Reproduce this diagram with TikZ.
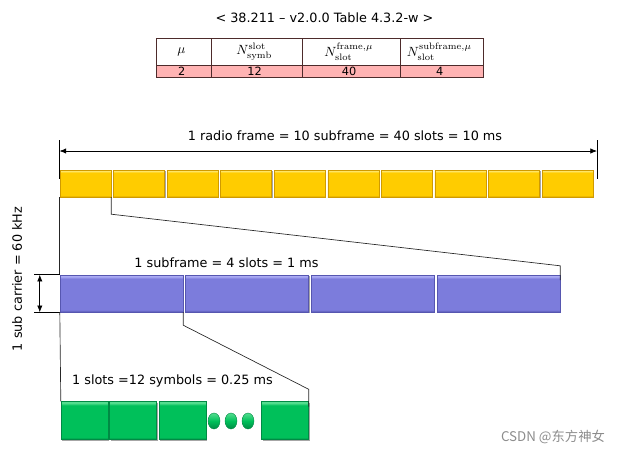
\documentclass[tikz,border=0pt]{standalone}
\usepackage{fontspec}
\usepackage{amsmath}
\usetikzlibrary{calc,matrix,positioning,arrows.meta,shapes.geometric,shadows}
\newfontfamily\verd{DejaVu Sans}
\newfontfamily\cjk{Noto Sans CJK SC}
\newcommand{\lblfont}{\verd\fontsize{9.6}{11.5}\selectfont}
\definecolor{sfyellow}{HTML}{FFCC00}
\definecolor{sfyellowhi}{HTML}{FFE566}
\definecolor{sfyellowlo}{HTML}{D09A00}
\definecolor{slpurple}{HTML}{7C7CDC}
\definecolor{slpurplehi}{HTML}{ABABF4}
\definecolor{slpurplelo}{HTML}{5656B0}
\definecolor{symgreen}{HTML}{00C05A}
\definecolor{symgreenhi}{HTML}{55DD90}
\definecolor{symgreenlo}{HTML}{008A44}
\definecolor{tblpink}{HTML}{FFB3B3}
\definecolor{tblline}{HTML}{4D2B2B}
\definecolor{wmgray}{HTML}{8C8C8C}
\pgfdeclareverticalshading{bevelyellow}{100bp}{color(0bp)=(sfyellowlo); color(25bp)=(sfyellowlo);
  color(28bp)=(sfyellow); color(70bp)=(sfyellow); color(73bp)=(sfyellowhi); color(100bp)=(sfyellowhi)}
\pgfdeclareverticalshading{bevelpurple}{100bp}{color(0bp)=(slpurplelo); color(25bp)=(slpurplelo);
  color(28bp)=(slpurple); color(70bp)=(slpurple); color(73bp)=(slpurplehi); color(100bp)=(slpurplehi)}
\pgfdeclareverticalshading{bevelgreen}{100bp}{color(0bp)=(symgreenlo); color(25bp)=(symgreenlo);
  color(28bp)=(symgreen); color(70bp)=(symgreen); color(73bp)=(symgreenhi); color(100bp)=(symgreenhi)}
\begin{document}
\begin{tikzpicture}[x=0.75pt, y=-0.75pt,
  every node/.style={font=\lblfont},
  bevel/.style={inner sep=0pt, line width=0.3pt,
    drop shadow={shadow xshift=0.8pt, shadow yshift=-0.8pt, opacity=0.35, fill=black}},
  sfbox/.style={bevel, draw=sfyellowlo, shading=bevelyellow,
    minimum width=38.25pt, minimum height=20.25pt},
  slbox/.style={bevel, draw=slpurplelo, shading=bevelpurple,
    minimum width=92.25pt, minimum height=27.75pt},
  symbox/.style={bevel, draw=symgreenlo, shading=bevelgreen,
    minimum width=35.25pt, minimum height=28.5pt},
  symdot/.style={ellipse, inner sep=0pt, draw=symgreenlo, line width=0.3pt,
    top color=symgreenhi, bottom color=symgreenlo, middle color=symgreen,
    minimum width=9pt, minimum height=12pt},
  tcell/.style={draw=tblline, line width=0.6pt, inner sep=0pt, align=center, anchor=center},
  link/.style={draw=black!85, line width=0.5pt},
  dimline/.style={draw=black, line width=0.5pt}]

  \useasboundingbox (0,0) rectangle (619,454);

  % table
  \node (ttl) at (324.5,18) {< 38.211 – v2.0.0 Table 4.3.2-w >};
  \matrix (tbl) [matrix of nodes, nodes={tcell}, anchor=north,
    column sep=-0.6pt, row sep=-0.6pt,
    column 1/.style={nodes={minimum width=41.25pt}},
    column 2/.style={nodes={minimum width=68.25pt}},
    column 3/.style={nodes={minimum width=73.5pt}},
    column 4/.style={nodes={minimum width=62.25pt}},
    row 1/.style={nodes={minimum height=20.25pt, font=\normalsize}},
    row 2/.style={nodes={minimum height=9pt, fill=tblpink,
      font=\verd\fontsize{8.5}{9}\selectfont}}] at (319.5,33) {
    $\mu$ & $N^{\mathrm{slot}}_{\mathrm{symb}}$ &
    $N^{\mathrm{frame},\mu}_{\mathrm{slot}}$ & $N^{\mathrm{subframe},\mu}_{\mathrm{slot}}$ \\
    2 & 12 & 40 & 4 \\
  };

  % radio frame
  \foreach \i in {0,...,9}
    \node[sfbox] (sf\i) at ({85.5+53.56*\i},183.5) {};
  \coordinate (rfL) at (59.5,151);
  \coordinate (rfR) at (597,151);
  \draw[dimline] ($(rfL)+(0,-11)$) -- ($(rfL)+(0,28)$);
  \draw[dimline] ($(rfR)+(0,-11)$) -- ($(rfR)+(0,28)$);
  \draw[dimline, {Latex[length=5pt,width=4pt]}-{Latex[length=5pt,width=4pt]}] (rfL) -- (rfR);
  \node (rflbl) at (345,136) {1 radio frame = 10 subframe = 40 slots = 10 ms};

  % subframe
  \foreach \i in {0,...,3}
    \node[slbox] (sl\i) at ({121.5+125.67*\i},293.5) {};
  \node (sllbl) at (226.5,263) {1 subframe = 4 slots = 1 ms};
  \draw[link] (sf0.south west) -- (sl0.north west);
  \draw[link] (sf0.south east) -- ++(0,17) -- ($(sl3.north east)+(0,-9)$) -- ([yshift=-4pt]sl3.north east);

  % sub carrier
  \draw[dimline] (sl0.north west) -- ++(-26,0) coordinate (scT);
  \draw[dimline] (sl0.south west) -- ++(-26,0) coordinate (scB);
  \draw[dimline, {Latex[length=5pt,width=4pt]}-{Latex[length=5pt,width=4pt]}]
    ($(scT)+(6,0)$) -- ($(scB)+(6,0)$);
  \node[rotate=90] (sclbl) at (17,279) {1 sub carrier = 60 kHz};

  % symbols
  \foreach \i/\x in {0/84.5,1/133,2/182.5,3/285}
    \node[symbox] (sym\i) at (\x,420.5) {};
  \foreach \i/\x in {1/214,2/231,3/248}
    \node[symdot] (dot\i) at (\x,421) {};
  \node (symlbl) at (172.5,381) {1 slots =12 symbols = 0.25 ms};
  \draw[link] (sl0.south west) -- (sym0.north west);
  \draw[link] (sl0.south east) -- ++(0,13) -- ($(sym3.north east)+(0,-12)$) -- ([yshift=-4pt]sym3.north east);

  % watermark
  \node[font=\cjk\fontsize{10}{12}\selectfont, text=wmgray] (wm) at (553,437) {CSDN @东方神女};

\end{tikzpicture}
\end{document}
